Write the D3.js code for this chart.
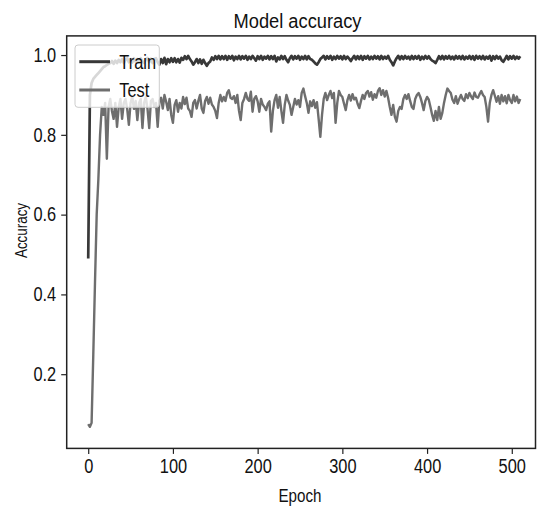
<!DOCTYPE html>
<html>
<head>
<meta charset="utf-8">
<script src="https://cdn.jsdelivr.net/npm/d3@7"></script>
<style>
  body { margin: 0; background: #fff; }
  text { font-family: "Liberation Sans", Arial, sans-serif; }
</style>
</head>
<body>
<svg width="547" height="509"></svg>
<script>
// accuracy every 2nd epoch (0, 2, ..., 510)
var trainAcc = [
    0.49, 0.9, 0.93, 0.94, 0.945, 0.95, 0.955, 0.96, 0.965, 0.97,
    0.972, 0.975, 0.978, 0.98, 0.985, 0.978, 0.986, 0.98, 0.988, 0.982,
    0.99, 0.98, 0.988, 0.992, 0.982, 0.99, 0.981, 0.992, 0.983, 0.99,
    0.982, 0.992, 0.984, 0.98, 0.99, 0.993, 0.982, 0.991, 0.98, 0.99,
    0.992, 0.982, 0.976, 0.99, 0.98, 0.993, 0.977, 0.99, 0.982, 0.992,
    0.983, 0.992, 0.982, 0.99, 0.981, 0.993, 0.988, 0.997, 0.99, 0.998,
    0.99, 0.984, 0.976, 0.982, 0.99, 0.98, 0.989, 0.978, 0.988, 0.98,
    0.973, 0.98, 0.984, 0.994, 0.988, 0.997, 0.99, 0.998, 0.989, 0.997,
    0.99, 0.998, 0.988, 0.997, 0.991, 0.998, 0.987, 0.996, 0.99, 0.998,
    0.989, 0.997, 0.991, 0.998, 0.988, 0.996, 0.99, 0.998, 0.992, 0.986,
    0.997, 0.99, 0.998, 0.988, 0.996, 0.991, 0.998, 0.989, 0.997, 0.99,
    0.998, 0.984, 0.994, 0.989, 0.998, 0.99, 0.997, 0.988, 0.982, 0.992,
    0.998, 0.989, 0.997, 0.991, 0.998, 0.988, 0.996, 0.99, 0.998, 0.989,
    0.997, 0.99, 0.988, 0.984, 0.979, 0.976, 0.982, 0.99, 0.994, 0.998,
    0.989, 0.997, 0.991, 0.998, 0.988, 0.996, 0.99, 0.998, 0.991, 0.997,
    0.989, 0.998, 0.99, 0.996, 0.991, 0.985, 0.992, 0.998, 0.989, 0.997,
    0.99, 0.998, 0.988, 0.997, 0.991, 0.998, 0.989, 0.996, 0.99, 0.998,
    0.991, 0.997, 0.989, 0.998, 0.99, 0.996, 0.991, 0.998, 0.988, 0.982,
    0.974, 0.984, 0.992, 0.998, 0.989, 0.997, 0.99, 0.998, 0.991, 0.996,
    0.989, 0.998, 0.99, 0.997, 0.991, 0.998, 0.988, 0.996, 0.99, 0.998,
    0.991, 0.997, 0.99, 0.986, 0.984, 0.98, 0.988, 0.997, 0.99, 0.998,
    0.989, 0.997, 0.991, 0.998, 0.99, 0.996, 0.989, 0.998, 0.991, 0.997,
    0.99, 0.998, 0.989, 0.996, 0.991, 0.998, 0.99, 0.997, 0.988, 0.998,
    0.991, 0.997, 0.99, 0.998, 0.989, 0.996, 0.991, 0.998, 0.986, 0.997,
    0.99, 0.998, 0.991, 0.996, 0.987, 0.983, 0.99, 0.998, 0.989, 0.997,
    0.991, 0.998, 0.99, 0.996, 0.991, 0.997
];
var testAcc = [
    0.075, 0.068, 0.078, 0.25, 0.43, 0.6, 0.69, 0.8, 0.87, 0.85,
    0.88, 0.74, 0.87, 0.89, 0.86, 0.84, 0.88, 0.82, 0.87, 0.89,
    0.84, 0.88, 0.89, 0.865, 0.825, 0.88, 0.895, 0.865, 0.885, 0.837,
    0.88, 0.89, 0.817, 0.88, 0.895, 0.865, 0.817, 0.885, 0.89, 0.87,
    0.88, 0.82, 0.885, 0.893, 0.866, 0.9, 0.883, 0.862, 0.89, 0.85,
    0.83, 0.875, 0.887, 0.858, 0.88, 0.866, 0.895, 0.877, 0.893, 0.866,
    0.86, 0.845, 0.88, 0.887, 0.866, 0.885, 0.9, 0.866, 0.855, 0.885,
    0.895, 0.878, 0.893, 0.876, 0.87, 0.86, 0.842, 0.88, 0.9, 0.884,
    0.895, 0.885, 0.905, 0.912, 0.893, 0.89, 0.897, 0.88, 0.9, 0.86,
    0.837, 0.88, 0.89, 0.905, 0.89, 0.885, 0.908, 0.858, 0.89, 0.897,
    0.884, 0.858, 0.89, 0.876, 0.87, 0.862, 0.878, 0.884, 0.808, 0.86,
    0.887, 0.9, 0.868, 0.895, 0.86, 0.83, 0.875, 0.9, 0.886, 0.875,
    0.85, 0.87, 0.89, 0.876, 0.887, 0.87, 0.905, 0.916, 0.897, 0.88,
    0.855, 0.884, 0.872, 0.887, 0.868, 0.882, 0.84, 0.795, 0.85, 0.89,
    0.905, 0.887, 0.9, 0.91, 0.892, 0.905, 0.83, 0.88, 0.91, 0.9,
    0.895, 0.878, 0.862, 0.887, 0.9, 0.886, 0.902, 0.889, 0.893, 0.878,
    0.867, 0.885, 0.9, 0.89, 0.905, 0.91, 0.896, 0.907, 0.888, 0.902,
    0.893, 0.91, 0.917, 0.9, 0.912, 0.896, 0.91, 0.893, 0.87, 0.85,
    0.875, 0.845, 0.833, 0.86, 0.87, 0.865, 0.89, 0.9, 0.89, 0.902,
    0.885, 0.87, 0.865, 0.89, 0.9, 0.905, 0.895, 0.88, 0.862, 0.885,
    0.895, 0.888, 0.87, 0.85, 0.835, 0.86, 0.837, 0.87, 0.84, 0.855,
    0.88, 0.9, 0.916, 0.91, 0.905, 0.888, 0.88, 0.897, 0.878, 0.89,
    0.9, 0.89, 0.885, 0.902, 0.892, 0.905, 0.896, 0.89, 0.906, 0.895,
    0.893, 0.902, 0.91, 0.9, 0.895, 0.87, 0.833, 0.88, 0.9, 0.912,
    0.898, 0.883, 0.897, 0.878, 0.9, 0.884, 0.897, 0.879, 0.9, 0.887,
    0.88, 0.9, 0.884, 0.896, 0.88, 0.89
];
var epochs = d3.range(0, trainAcc.length * 2, 2);

var seriesNames = ["Train", "Test"];
var seriesColors = ["#383838", "#6e6e6e"];
var seriesWidths = [2.7, 2.4];
var xTicks = [0, 100, 200, 300, 400, 500];
var yTicks = [0.2, 0.4, 0.6, 0.8, 1.0];

// plot box
var box = {left: 66.7, right: 535.5, top: 35.9, bottom: 448.4};

var x = d3.scaleLinear().domain([-25.4, 528]).range([box.left, box.right]);
var y = d3.scaleLinear().domain([0.014, 1.048]).range([box.bottom, box.top]);

var svg = d3.select("svg");

// squeeze text sideways, the original font is a narrow one
function narrow(sel, f) {
    sel.each(function () {
        var w = this.getComputedTextLength();
        d3.select(this).attr("textLength", w * f).attr("lengthAdjust", "spacingAndGlyphs");
    });
}

// lines
var line = d3.line()
    .x(function (d, i) { return x(epochs[i]); })
    .y(function (d) { return y(d); });

var plot = svg.append("g");
[trainAcc, testAcc].forEach(function (s, k) {
    plot.append("path")
        .attr("d", line(s))
        .attr("fill", "none")
        .attr("stroke", seriesColors[k])
        .attr("stroke-width", seriesWidths[k])
        .attr("stroke-linejoin", "round");
});

// axes
var xAxis = svg.append("g")
    .attr("transform", "translate(0," + box.bottom + ")")
    .call(d3.axisBottom(x).tickValues(xTicks).tickSize(5.5).tickPadding(5).tickFormat(d3.format("d")));
var yAxis = svg.append("g")
    .attr("transform", "translate(" + box.left + ",0)")
    .call(d3.axisLeft(y).tickValues(yTicks).tickSize(5.5).tickPadding(5).tickFormat(d3.format(".1f")));

[xAxis, yAxis].forEach(function (a) {
    a.select(".domain").remove();
    a.selectAll(".tick line").attr("stroke", "#222").attr("stroke-width", 1.2);
    a.selectAll(".tick text")
        .attr("fill", "#111")
        .style("font-size", "19.5px")
        .style("font-family", "'Liberation Sans', Arial, sans-serif")
        .call(narrow, 0.84);
});

// frame
svg.append("rect")
    .attr("x", box.left)
    .attr("y", box.top)
    .attr("width", box.right - box.left)
    .attr("height", box.bottom - box.top)
    .attr("fill", "none")
    .attr("stroke", "#222")
    .attr("stroke-width", 1.5);

// title and axis labels
svg.append("text")
    .attr("x", 297.5)
    .attr("y", 27.5)
    .attr("text-anchor", "middle")
    .style("font-size", "20px")
    .attr("fill", "#111")
    .attr("textLength", 128)
    .attr("lengthAdjust", "spacingAndGlyphs")
    .text("Model  accuracy");

svg.append("text")
    .attr("x", 300)
    .attr("y", 501.5)
    .attr("text-anchor", "middle")
    .style("font-size", "17.5px")
    .attr("fill", "#111")
    .attr("textLength", 43)
    .attr("lengthAdjust", "spacingAndGlyphs")
    .text("Epoch");

svg.append("text")
    .attr("transform", "translate(26.5,230.5) rotate(-90)")
    .attr("text-anchor", "middle")
    .style("font-size", "16px")
    .attr("fill", "#111")
    .attr("textLength", 55)
    .attr("lengthAdjust", "spacingAndGlyphs")
    .text("Accuracy");

// legend (semi transparent, like matplotlib)
var legend = svg.append("g");
legend.append("rect")
    .attr("x", 75)
    .attr("y", 45)
    .attr("width", 84.3)
    .attr("height", 62.3)
    .attr("rx", 3)
    .attr("fill", "#fff")
    .attr("fill-opacity", 0.8)
    .attr("stroke", "#cccccc")
    .attr("stroke-width", 1);

seriesNames.forEach(function (name, k) {
    var ly = 61.7 + k * 28.3;
    legend.append("line")
        .attr("x1", 79.3)
        .attr("x2", 110)
        .attr("y1", ly)
        .attr("y2", ly)
        .attr("stroke", seriesColors[k])
        .attr("stroke-width", 3);
    legend.append("text")
        .attr("x", 119.3)
        .attr("y", ly + 7.3)
        .style("font-size", "19.5px")
        .attr("fill", "#111")
        .text(name)
        .call(narrow, 0.84);
});
</script>
</body>
</html>
